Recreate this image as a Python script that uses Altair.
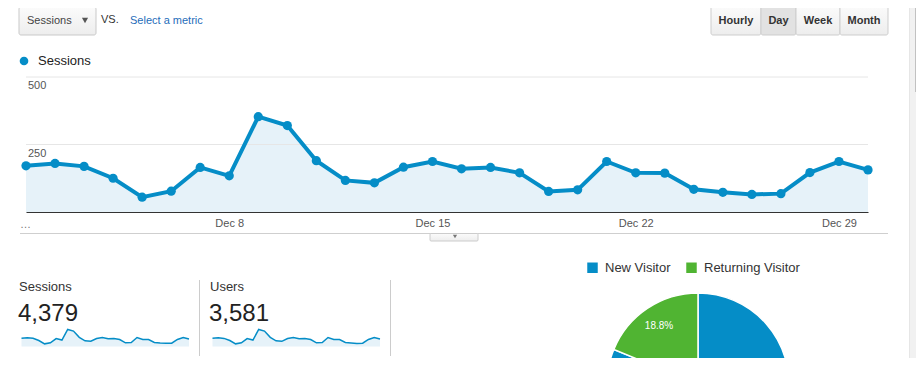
import altair as alt
import pandas as pd

# ---------------- data ----------------
days = list(range(1, 31))  # December 1..30
sessions = [171, 180, 169, 125, 55, 77, 165, 134, 353, 320,
            190, 117, 108, 166, 187, 160, 165, 145, 76, 82,
            187, 145, 144, 84, 73, 65, 68, 146, 187, 156]
users = [140, 147, 138, 102, 45, 63, 135, 110, 289, 262,
         155, 96, 88, 136, 153, 131, 135, 119, 62, 67,
         153, 119, 118, 69, 60, 53, 56, 120, 153, 128]
tick_days = [8, 15, 22, 29]
y_ticks = [250, 500]
visitor_types = ["New Visitor", "Returning Visitor"]
visitor_share = [81.2, 18.8]
total_sessions = "4,379"
total_users = "3,581"
buttons = ["Hourly", "Day", "Week", "Month"]

# ---------------- layout (screen pixels) ----------------
OX, OY = 26, 77          # screen position of the main plot's top-left corner
W, H = 842, 135          # main plot size
PAD = {"left": OX - 8, "top": OY - 8, "right": 916 - (OX + W), "bottom": 358 - (OY + H)}
BUTTON_EDGES = [711, 761, 796, 840, 888]


def X(v):
    return v - OX


def Y(v):
    return v - OY


FONT = "Arial, 'Liberation Sans', sans-serif"
BLUE = "#058dc7"
GREEN = "#50b432"
FILL = "#e6f2f9"

one = pd.DataFrame({"t": [""]})


def txt(t, x, y, size=11, color="#333", weight="normal", align="left", baseline="middle"):
    return alt.Chart(pd.DataFrame({"t": [t]})).mark_text(
        align=align, baseline=baseline, fontSize=size, font=FONT, color=color, fontWeight=weight
    ).encode(x=alt.value(X(x)), y=alt.value(Y(y)), text="t:N")


def box(x1, y1, x2, y2, fill, stroke=None, r=0, sw=1):
    props = dict(fill=fill, cornerRadius=r)
    if stroke:
        props.update(stroke=stroke, strokeWidth=sw)
    return alt.Chart(one).mark_rect(**props).encode(
        x=alt.value(X(x1)), x2=alt.value(X(x2)), y=alt.value(Y(y1)), y2=alt.value(Y(y2)))


def hline(x1, x2, y, color, w=1):
    return alt.Chart(one).mark_rule(color=color, strokeWidth=w).encode(
        x=alt.value(X(x1)), x2=alt.value(X(x2)), y=alt.value(Y(y)))


def vline(x, y1, y2, color, w=1):
    return alt.Chart(one).mark_rule(color=color, strokeWidth=w).encode(
        x=alt.value(X(x)), y=alt.value(Y(y1)), y2=alt.value(Y(y2)))


def tri(x, y, size, color):
    return alt.Chart(one).mark_point(shape="triangle-down", filled=True, size=size, color=color, opacity=1).encode(
        x=alt.value(X(x)), y=alt.value(Y(y)))


def dot(x, y, size, color):
    return alt.Chart(one).mark_circle(size=size, color=color, opacity=1).encode(
        x=alt.value(X(x)), y=alt.value(Y(y)))


btn_grad = alt.LinearGradient(gradient="linear", x1=0, x2=0, y1=0, y2=1,
                              stops=[alt.GradientStop(color="#fbfbfb", offset=0),
                                     alt.GradientStop(color="#ededed", offset=1)])

decor = []
# metric selector
decor.append(box(19, 7, 96, 35, btn_grad, "#c9c9c9", r=2))
decor.append(txt("Sessions", 27, 21, 11, "#444"))
decor.append(tri(85, 20.5, 38, "#555"))
decor.append(txt("VS.", 101, 20, 11, "#333"))
decor.append(txt("Select a metric", 130, 21, 11, "#1f6dba"))
# period buttons
for i, b in enumerate(buttons):
    x1, x2 = BUTTON_EDGES[i], BUTTON_EDGES[i + 1]
    fill = "#e2e2e2" if b == "Day" else btn_grad
    decor.append(box(x1, 6, x2, 35, fill, "#cdcdcd", r=2))
    decor.append(txt(b, (x1 + x2) / 2, 21, 11, "#333", "bold", "center"))
# series legend
decor.append(dot(24, 61, 75, BLUE))
decor.append(txt("Sessions", 38, 61, 13, "#222"))
# axis start ellipsis, divider, handle
decor.append(txt("…", 20, 225, 11, "#777"))
decor.append(hline(20, 888, 233.5, "#cfcfcf"))
decor.append(box(430, 233.5, 478, 241, btn_grad, "#cccccc", r=1))
decor.append(tri(455, 236.5, 18, "#777"))
# scorecards
decor.append(txt("Sessions", 19, 287, 13, "#333"))
decor.append(txt(total_sessions, 18, 314, 24, "#222"))
decor.append(txt("Users", 210, 287, 13, "#333"))
decor.append(txt(total_users, 209, 314, 24, "#222"))
decor.append(vline(199.5, 280, 356, "#cccccc"))
decor.append(vline(390.5, 280, 356, "#cccccc"))
# scrollbar
decor.append(box(909, 0, 916, 366, "#f1f1f1"))
decor.append(vline(909.5, 0, 366, "#e6e6e6"))
decor.append(box(915, 8, 916, 92, "#c1c1c1"))

# ---------------- main chart ----------------
df = pd.DataFrame({"day": days, "sessions": sessions})
xs = alt.Scale(domain=[1, 30], nice=False, zero=False)
ys = alt.Scale(domain=[0, 500], nice=False)
base = alt.Chart(df).encode(
    x=alt.X("day:Q", scale=xs, axis=alt.Axis(
        values=tick_days, labelExpr="'Dec ' + datum.label", ticks=False, grid=False,
        domainColor="#333", domainWidth=1.2, labelFontSize=11, labelColor="#555",
        labelPadding=5, labelFont=FONT, title=None, labelFlush=False)),
    y=alt.Y("sessions:Q", scale=ys, axis=None),
)
area = base.mark_area(color=FILL, opacity=1)
line = base.mark_line(color=BLUE, strokeWidth=4)
pts = base.mark_circle(color=BLUE, size=85, opacity=1)
gdf = pd.DataFrame({"v": y_ticks})
grid = alt.Chart(gdf).mark_rule(color="#e6e6e6").encode(
    y=alt.Y("v:Q", scale=ys, axis=None), x=alt.value(0), x2=alt.value(W))
gridtext = alt.Chart(gdf).mark_text(align="left", baseline="top", dx=2, dy=3, fontSize=11,
                                    font=FONT, color="#555").encode(
    y=alt.Y("v:Q", scale=ys, axis=None), x=alt.value(0), text="v:Q")
main = alt.layer(area, grid, gridtext, line, pts)


# ---------------- sparklines ----------------
def spark(values, x1, x2):
    sdf = pd.DataFrame({"day": days, "v": values})
    sx = alt.Scale(domain=[1, 30], range=[X(x1), X(x2)], nice=False, zero=False)
    sy = alt.Scale(domain=[0, max(values)], range=[Y(346.5), Y(329.5)], nice=False)
    b = alt.Chart(sdf).encode(x=alt.X("day:Q", scale=sx, axis=None),
                              y=alt.Y("v:Q", scale=sy, axis=None))
    return alt.layer(b.mark_area(color=FILL, opacity=1), b.mark_line(color=BLUE, strokeWidth=1.5))


spark_s = spark(sessions, 21.5, 189)
spark_u = spark(users, 212.5, 380)

# ---------------- pie ----------------
pie_df = pd.DataFrame({"type": visitor_types, "share": visitor_share,
                       "ord": list(range(len(visitor_types))),
                       "label": [f"{s}%" for s in visitor_share]})
pbase = alt.Chart(pie_df).encode(
    theta=alt.Theta("share:Q", stack=True),
    order=alt.Order("ord:Q"),
    x=alt.value(X(698)), y=alt.value(Y(384)))
arc = pbase.mark_arc(outerRadius=91, stroke="white", strokeWidth=1.5).encode(
    color=alt.Color("type:N", scale=alt.Scale(domain=visitor_types, range=[BLUE, GREEN]),
                    legend=alt.Legend(orient="none", legendX=X(586), legendY=Y(261),
                                      direction="horizontal", title=None, symbolType="square",
                                      symbolSize=110, symbolStrokeWidth=0, labelFontSize=13,
                                      labelFont=FONT, labelColor="#333", columnPadding=14,
                                      padding=0, labelOffset=6)))
# only the label of the slice that is inside the visible window
lbl = pbase.mark_text(radius=70, color="white", fontSize=10, font=FONT).encode(
    text="label:N",
    opacity=alt.condition("datum.share < 50", alt.value(1), alt.value(0)))
pie = alt.layer(arc, lbl)

chart = alt.layer(*decor, main, spark_s, spark_u, pie).resolve_scale(
    x="independent", y="independent"
).properties(width=W, height=H, padding=PAD, autosize="none").configure_view(stroke=None)

chart.save("out.html", embed_options={"renderer": "svg", "actions": False})
